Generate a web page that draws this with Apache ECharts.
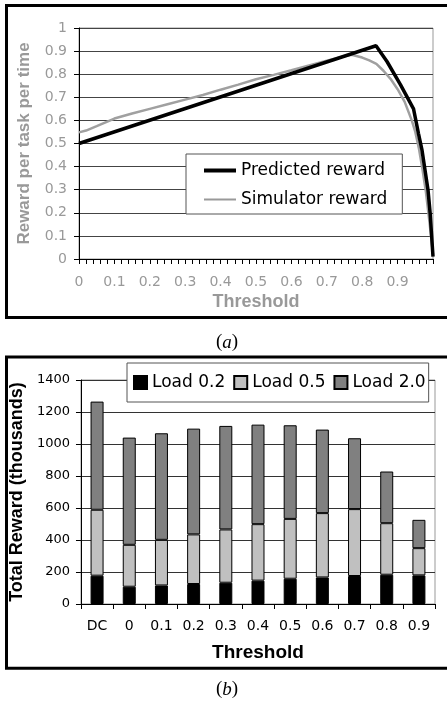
<!DOCTYPE html>
<html>
<head>
<meta charset="utf-8">
<script src="https://cdn.jsdelivr.net/npm/echarts@6/dist/echarts.min.js"></script>
<style>
  html, body { margin: 0; padding: 0; background: #fff; }
  #main { width: 447px; height: 706px; }
</style>
</head>
<body>
<div id="main"></div>
<script>
// (a) reward per task per time vs threshold
var predictedReward = [
  [0, 0.5], [0.839, 0.923], [0.87, 0.855], [0.908, 0.755], [0.945, 0.65],
  [0.959, 0.543], [0.969, 0.471], [0.986, 0.298], [0.992, 0.197], [1.0, 0.01]
];
var simulatorReward = [
  [0, 0.548], [0.02, 0.556], [0.05, 0.575], [0.1, 0.608], [0.15, 0.63],
  [0.2, 0.65], [0.25, 0.67], [0.3, 0.69], [0.35, 0.71], [0.4, 0.733],
  [0.45, 0.755], [0.5, 0.778], [0.55, 0.797], [0.6, 0.817], [0.65, 0.838],
  [0.7, 0.858], [0.75, 0.878], [0.77, 0.884], [0.8, 0.872], [0.82, 0.86],
  [0.84, 0.845], [0.86, 0.815], [0.88, 0.78], [0.9, 0.735], [0.92, 0.68],
  [0.94, 0.6], [0.95, 0.55], [0.96, 0.48], [0.97, 0.39], [0.98, 0.29],
  [0.99, 0.16], [1.0, 0.02]
];

// (b) total reward (thousands), stacked by load
var thresholds = ["DC", "0", "0.1", "0.2", "0.3", "0.4", "0.5", "0.6", "0.7", "0.8", "0.9"];
var load02 = [177, 108, 116, 125, 133, 146, 158, 166, 175, 183, 179];
var load05 = [412, 262, 285, 310, 333, 353, 374, 402, 418, 322, 170];
var load20 = [676, 670, 666, 661, 647, 622, 585, 522, 443, 323, 177];

var sans = "DejaVu Sans";
var arial = "Liberation Sans";

var myChart = echarts.init(document.getElementById("main"), null, { renderer: "canvas" });

var option = {
  animation: false,
  backgroundColor: "#fff",
  grid: [
    { left: 79, top: 28, right: 14, bottom: 447, show: true, borderColor: "#999", borderWidth: 1 },
    { left: 80, top: 380, right: 12, bottom: 102, show: true, borderColor: "#999", borderWidth: 1 }
  ],
  xAxis: [
    {
      gridIndex: 0,
      type: "value",
      min: 0,
      max: 1,
      interval: 0.1,
      name: "Threshold",
      nameLocation: "middle",
      nameGap: 34,
      nameTextStyle: { color: "#999", fontFamily: arial, fontWeight: "bold", fontSize: 18 },
      axisLine: { lineStyle: { color: "#000", width: 1 } },
      axisTick: { show: true, length: 5, lineStyle: { color: "#000" } },
      minorTick: { show: true, splitNumber: 5, length: 5, lineStyle: { color: "#000" } },
      splitLine: { show: false },
      axisLabel: {
        color: "#999",
        fontFamily: sans,
        fontSize: 14,
        margin: 16,
        formatter: function (v) {
          var r = Math.round(v * 10) / 10;
          if (r >= 1) return "";
          return r === 0 ? "0" : r.toFixed(1);
        }
      }
    },
    {
      gridIndex: 1,
      type: "category",
      data: thresholds,
      name: "Threshold",
      nameLocation: "middle",
      nameGap: 39,
      nameTextStyle: { color: "#000", fontFamily: arial, fontWeight: "bold", fontSize: 19 },
      axisLine: { lineStyle: { color: "#000", width: 1 } },
      axisTick: { show: true, length: 5, lineStyle: { color: "#000" } },
      axisLabel: { color: "#000", fontFamily: sans, fontSize: 14, margin: 15 }
    }
  ],
  yAxis: [
    {
      gridIndex: 0,
      type: "value",
      min: 0,
      max: 1,
      interval: 0.1,
      name: "Reward per task per time",
      nameLocation: "middle",
      nameGap: 46,
      nameTextStyle: { color: "#999", fontFamily: arial, fontWeight: "bold", fontSize: 17 },
      axisLine: { show: true, lineStyle: { color: "#000", width: 1 } },
      axisTick: { show: true, length: 5, lineStyle: { color: "#000" } },
      splitLine: { lineStyle: { color: "#444", width: 1 } },
      axisLabel: {
        color: "#999",
        fontFamily: sans,
        fontSize: 14,
        margin: 12,
        formatter: function (v) {
          var r = Math.round(v * 10) / 10;
          if (r === 0) return "0";
          if (r === 1) return "1";
          return r.toFixed(1);
        }
      }
    },
    {
      gridIndex: 1,
      type: "value",
      min: 0,
      max: 1400,
      interval: 200,
      name: "Total Reward (thousands)",
      nameLocation: "middle",
      nameGap: 46,
      nameTextStyle: { color: "#000", fontFamily: arial, fontWeight: "bold", fontSize: 18 },
      axisLine: { show: true, lineStyle: { color: "#000", width: 1 } },
      axisTick: { show: true, length: 5, lineStyle: { color: "#000" } },
      splitLine: { lineStyle: { color: "#333", width: 1 } },
      axisLabel: {
        color: "#000", fontFamily: sans, fontSize: 13, margin: 11,
        formatter: function (v) { return String(v); }
      }
    }
  ],
  legend: [
    {
      orient: "vertical",
      left: 186,
      top: 154,
      padding: [8, 15, 6, 16],
      itemWidth: 32,
      itemHeight: 14,
      itemGap: 12,
      borderColor: "#555",
      borderWidth: 1,
      backgroundColor: "#fff",
      itemStyle: { opacity: 0 },
      textStyle: { color: "#000", fontFamily: sans, fontSize: 17 },
      data: [
        { name: "Predicted reward", lineStyle: { color: "#000", width: 4 } },
        { name: "Simulator reward", lineStyle: { color: "#999", width: 2 } }
      ]
    },
    {
      orient: "horizontal",
      left: 127,
      top: 363,
      padding: [11, 3, 11, 6],
      icon: "rect",
      itemWidth: 13,
      itemHeight: 13,
      itemGap: 8,
      borderColor: "#555",
      borderWidth: 1,
      backgroundColor: "#fff",
      textStyle: { color: "#000", fontFamily: sans, fontSize: 17 },
      data: ["Load 0.2", "Load 0.5", "Load 2.0"]
    }
  ],
  series: [
    {
      name: "Predicted reward",
      type: "line",
      xAxisIndex: 0,
      yAxisIndex: 0,
      symbol: "none",
      z: 4,
      lineStyle: { color: "#000", width: 3.5 },
      itemStyle: { color: "#000" },
      data: predictedReward
    },
    {
      name: "Simulator reward",
      type: "line",
      xAxisIndex: 0,
      yAxisIndex: 0,
      symbol: "none",
      z: 3,
      lineStyle: { color: "#a0a0a0", width: 2.5 },
      itemStyle: { color: "#a0a0a0" },
      data: simulatorReward
    },
    {
      name: "Load 0.2",
      type: "bar",
      xAxisIndex: 1,
      yAxisIndex: 1,
      stack: "total",
      barWidth: 13,
      itemStyle: { color: "#000", borderColor: "#000", borderWidth: 1 },
      data: load02
    },
    {
      name: "Load 0.5",
      type: "bar",
      xAxisIndex: 1,
      yAxisIndex: 1,
      stack: "total",
      barWidth: 13,
      itemStyle: { color: "#c0c0c0", borderColor: "#000", borderWidth: 1 },
      data: load05
    },
    {
      name: "Load 2.0",
      type: "bar",
      xAxisIndex: 1,
      yAxisIndex: 1,
      stack: "total",
      barWidth: 13,
      itemStyle: { color: "#808080", borderColor: "#000", borderWidth: 1 },
      data: load20
    }
  ],
  graphic: [
    // outer frames (right side runs off the picture)
    { type: "rect", silent: true, z: 100, shape: { x: 6.5, y: 5.5, width: 460, height: 312 },
      style: { fill: "none", stroke: "#000", lineWidth: 3 } },
    { type: "rect", silent: true, z: 100, shape: { x: 6.5, y: 357, width: 460, height: 311.3 },
      style: { fill: "none", stroke: "#000", lineWidth: 3 } },
    // captions
    { type: "text", left: 216, top: 333,
      style: { text: "{p|(}{i|a}{p|)}", rich: {
        p: { fontFamily: "Liberation Serif", fontSize: 19, fill: "#000" },
        i: { fontFamily: "Liberation Serif", fontStyle: "italic", fontSize: 19, fill: "#000" } } } },
    { type: "text", left: 216, top: 680,
      style: { text: "{p|(}{i|b}{p|)}", rich: {
        p: { fontFamily: "Liberation Serif", fontSize: 19, fill: "#000" },
        i: { fontFamily: "Liberation Serif", fontStyle: "italic", fontSize: 19, fill: "#000" } } } }
  ]
};

myChart.setOption(option);
window.onresize = function () {
  myChart ? myChart.resize() : "";
};
</script>
</body>
</html>
